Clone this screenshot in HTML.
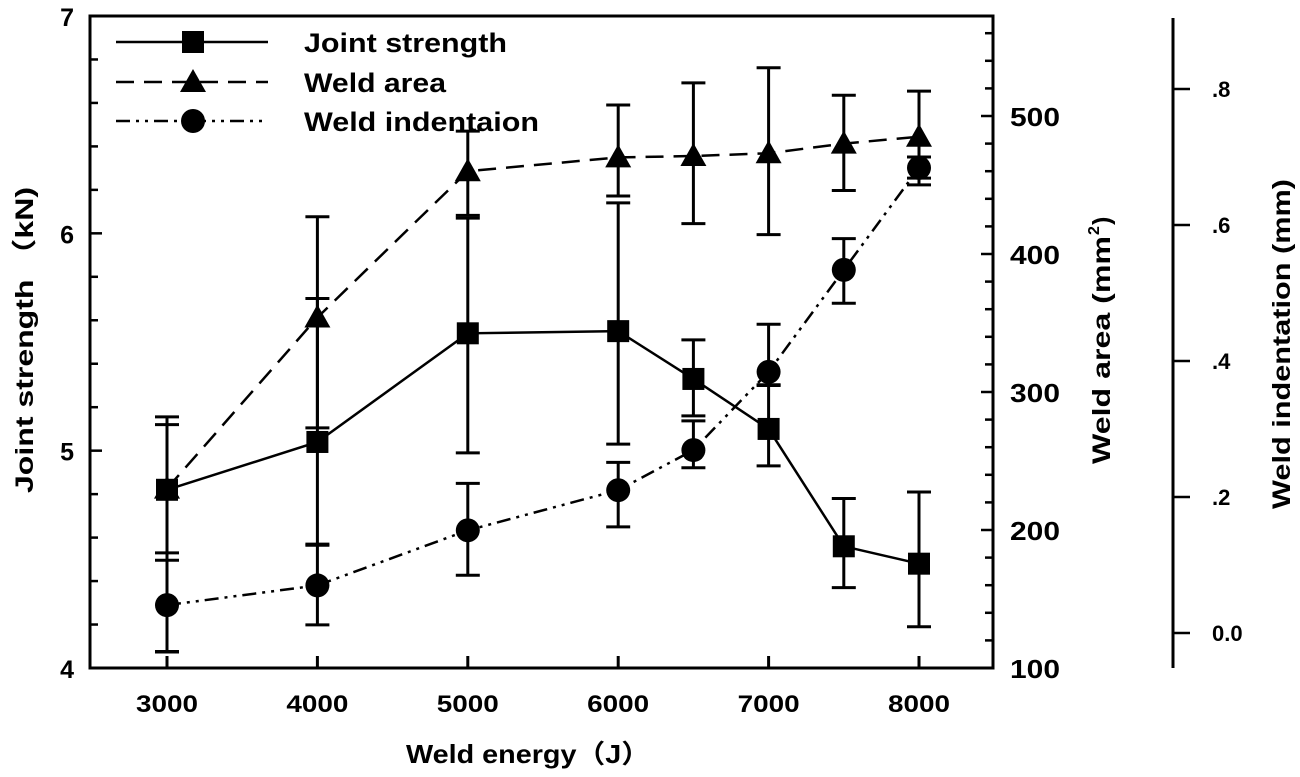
<!DOCTYPE html>
<html><head><meta charset="utf-8"><style>
html,body{margin:0;padding:0;background:#fff;}
svg{display:block;font-family:"Liberation Sans",Arial,"Noto Sans CJK SC",sans-serif;font-weight:bold;}
</style></head><body>
<svg id="chart" width="1300" height="777" viewBox="0 0 1300 777"></svg>
<script>
const categories=[3000,4000,5000,6000,6500,7000,7500,8000];
const jointStrength=[4.82,5.04,5.54,5.55,5.33,5.10,4.56,4.48];
const jointLo=[4.53,4.57,4.99,5.03,5.16,4.93,4.37,4.19];
const jointHi=[5.12,5.70,6.07,6.14,5.51,5.30,4.78,4.81];
const weldArea=[230,354,460,470,471,473,480,485];
const areaLo=[112,274,428,442,422,414,446,455];
const areaHi=[282,427,489,508,524,535,515,518];
const indentation=[0.041,0.07,0.151,0.21,0.269,0.384,0.534,0.684];
const indLo=[-0.028,0.012,0.085,0.156,0.243,0.365,0.485,0.659];
const indHi=[0.107,0.129,0.22,0.251,0.312,0.454,0.58,0.70];
const xTicks=[3000,4000,5000,6000,7000,8000];
const leftTicks=[4,5,6,7];
const areaTicks=[100,200,300,400,500];
const indTicks=[0,0.2,0.4,0.6,0.8];
const indTickLabels=["0.0",".2",".4",".6",".8"];

const NS="http://www.w3.org/2000/svg";
const svg=document.getElementById('chart');
const L=90,R=993,T=16,B=668;
const xs=v=>167+(v-3000)*(919-167)/5000;
const yL=v=>B-(v-4)*(B-T)/3;
const yA=v=>B-(v-100)*1.38;
const yI=v=>633-v*680;
function el(tag,attrs,parent){const e=document.createElementNS(NS,tag);for(const k in attrs)e.setAttribute(k,attrs[k]);(parent||svg).appendChild(e);return e;}
function txt(s,x,y,attrs){const t=el('text',Object.assign({x:x,y:y,fill:'#000'},attrs));t.textContent=s;return t;}
function fit(t,len){t.setAttribute('textLength',len);t.setAttribute('lengthAdjust','spacingAndGlyphs');}

// frame
const frame=el('rect',{x:L,y:T,width:R-L,height:B-T,fill:'none',stroke:'#000','stroke-width':3});



// x ticks
xTicks.forEach(v=>{
  const ln=el('line',{x1:xs(v),x2:xs(v),y1:B,y2:B-12,stroke:'#000','stroke-width':3});
  
  
  const t=txt(String(v),xs(v),712,{'font-size':24,'text-anchor':'middle'});
  fit(t,62);
  
  
});
// left ticks
for(let v=4;v<=7.001;v+=0.2){
  const major=Math.abs(v-Math.round(v))<0.01;
  const ln=el('line',{x1:L,x2:L+(major?12:8),y1:yL(v),y2:yL(v),stroke:'#000','stroke-width':2.5});
  
  
}
leftTicks.forEach(v=>{
  const t=txt(String(v),74,yL(v)+10,{'font-size':25,'text-anchor':'end'});
  
  
});
// right (area) ticks
for(let v=100;v<=570;v+=20){
  const major=v%100===0;
  const ln=el('line',{x1:R,x2:R-(major?12:8),y1:yA(v),y2:yA(v),stroke:'#000','stroke-width':2.5});
  
  
}
areaTicks.forEach(v=>{
  const t=txt(String(v),1010,yA(v)+10,{'font-size':26});
  fit(t,50);
  
  
});
// third axis
const ax3=el('line',{x1:1173,x2:1173,y1:T+2,y2:B,stroke:'#000','stroke-width':3});


indTicks.forEach((v,i)=>{
  const ln=el('line',{x1:1173,x2:1190,y1:yI(v),y2:yI(v),stroke:'#000','stroke-width':2.5});
  
  
  const t=txt(indTickLabels[i],1212,yI(v)+8,{'font-size':22});
  
  
});

// axis titles
let t=txt('Weld energy（J）',528,763,{'font-size':26,'text-anchor':'middle'});
fit(t,244);

t=txt('Joint strength （kN)',0,0,{'font-size':25,'text-anchor':'middle',transform:'translate(33,340) rotate(-90)'});
fit(t,306);

// weld area title: main text + superscript
const ga=el('g',{transform:'translate(1110,464) rotate(-90)'});


let ta=el('text',{x:0,y:0,'font-size':25,fill:'#000'},ga);ta.textContent='Weld area (mm';fit(ta,228);
let ts=el('text',{x:229,y:-11,'font-size':16,fill:'#000'},ga);ts.textContent='2';
let tp=el('text',{x:239,y:0,'font-size':25,fill:'#000'},ga);tp.textContent=')';
t=txt('Weld indentation (mm)',0,0,{'font-size':25,'text-anchor':'middle',transform:'translate(1290,344) rotate(-90)'});
fit(t,330);


function errorBars(lo,hi,ys,name){
  categories.forEach((c,i)=>{
    const x=xs(c);
    const g=el('g',{stroke:'#000','stroke-width':3});
    
    
    el('line',{x1:x,x2:x,y1:ys(lo[i]),y2:ys(hi[i])},g);
    el('line',{x1:x-12,x2:x+12,y1:ys(lo[i]),y2:ys(lo[i])},g);
    el('line',{x1:x-12,x2:x+12,y1:ys(hi[i]),y2:ys(hi[i])},g);
  });
}
errorBars(areaLo,areaHi,yA,'area');
errorBars(indLo,indHi,yI,'indentation');
errorBars(jointLo,jointHi,yL,'joint');

function series(vals,ys,dash,marker,name){
  const pts=categories.map((c,i)=>xs(c)+','+ys(vals[i])).join(' ');
  const pl=el('polyline',{points:pts,fill:'none',stroke:'#000','stroke-width':2.5,'stroke-dasharray':dash});
  
  
  categories.forEach((c,i)=>{
    const m=marker(xs(c),ys(vals[i]));
    
    
  });
}
const sq=(x,y)=>el('rect',{x:x-11,y:y-11,width:22,height:22,fill:'#000'});
const tri=(x,y)=>el('polygon',{points:`${x},${y-13} ${x-13},${y+10} ${x+13},${y+10}`,fill:'#000'});
const cir=(x,y)=>el('circle',{cx:x,cy:y,r:12,fill:'#000'});
series(weldArea,yA,'18,10',tri,'weld-area');
series(indentation,yI,'14,6,3,6,3,6',cir,'indentation');
series(jointStrength,yL,'none',sq,'joint-strength');

// legend
const legend=[['Joint strength','none',sq,42,203],['Weld area','18,10',tri,82,142],['Weld indentaion','14,6,3,6,3,6',cir,121,235]];
legend.forEach(e=>{
  const g=el('g',{});
  
  
  el('line',{x1:116,x2:268,y1:e[3],y2:e[3],stroke:'#000','stroke-width':2.5,'stroke-dasharray':e[1]},g);
  g.appendChild(e[2](193,e[3]));
  const tt=el('text',{x:304,y:e[3]+10,'font-size':27,fill:'#000'},g);
  tt.textContent=e[0];
  fit(tt,e[4]);
});
</script>
</body></html>
